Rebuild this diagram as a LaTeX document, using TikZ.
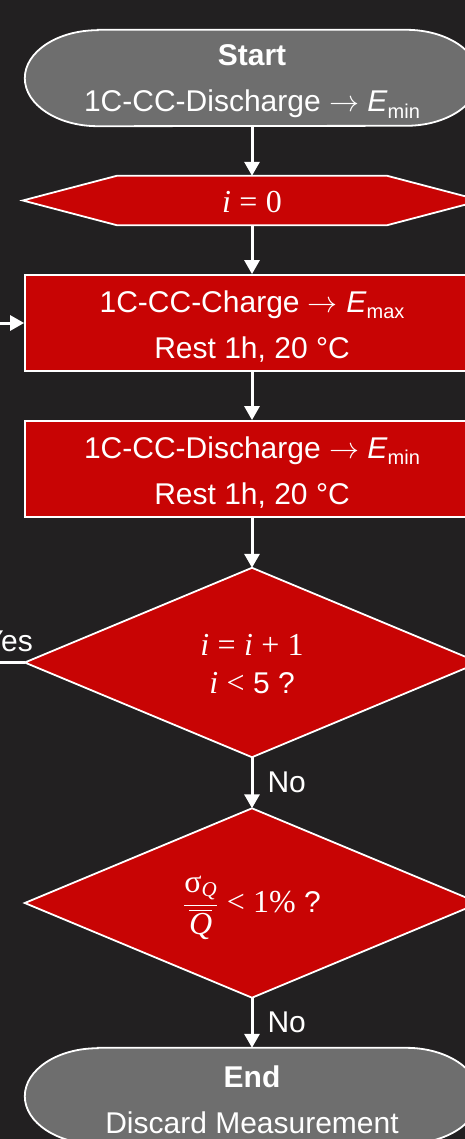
\RequirePackage{fix-cm}
\documentclass[tikz,border=0pt]{standalone}
\usepackage{amsmath}
\usepackage[no-math]{fontspec}
\setmainfont{Liberation Sans}
\newfontfamily\mf{Liberation Serif}
\usetikzlibrary{arrows.meta,calc,backgrounds}
\definecolor{bgc}{RGB}{34,32,33}
\definecolor{redc}{RGB}{200,4,4}
\definecolor{grayc}{RGB}{110,110,110}
\newcommand{\Esub}[1]{\textit{E}\raisebox{-0.22em}{\fontsize{20}{20}\selectfont #1}}
\newcommand{\up}{\rule{0pt}{28.5pt}}
\newcommand{\dn}[2]{\raisebox{-#1}[\height][\depth]{#2}}
\newcommand{\ms}{\fontsize{32}{38}\selectfont\mf}
\newcommand{\mi}[1]{{\ms\itshape #1}}
\newcommand{\op}[1]{\hspace{0.28em}{\ms #1}\hspace{0.28em}}
\tikzset{
  txt/.style={text=white, font=\fontsize{30}{46}\selectfont, align=center, inner sep=0pt},
  box/.style={txt, minimum width=454pt, minimum height=96pt},
  redbox/.style={box, draw=white, fill=redc, line width=1.8pt},
  hexn/.style={txt, minimum width=458pt, minimum height=49pt},
  dia/.style={txt, font=\fontsize{30}{38}\selectfont, minimum width=454pt, minimum height=189pt},
  redshape/.style={draw=white, fill=redc, line width=1.8pt},
  grayshape/.style={draw=white, fill=grayc, line width=1.8pt},
  conn/.style={draw=white, line width=3pt, -{Triangle[width=15pt,length=14pt]}},
  lbl/.style={text=white, font=\fontsize{30}{36}\selectfont, inner sep=0pt}
}
\begin{document}
\begin{tikzpicture}[x=1pt,y=1pt]
\useasboundingbox (0,0) rectangle (465,-1139);
\node[box] (st) at (252,-78) {\up\textbf{Start}\\1C-CC-Discharge $\rightarrow$ \Esub{min}};
\node[hexn] (hx) at (252,-200.5) {\dn{2pt}{\mi{i}\op{=}{\ms 0}}};
\node[redbox] (b1) at (252,-323) {\up 1C-CC-Charge $\rightarrow$ \Esub{max}\\Rest 1h, 20 °C};
\node[redbox] (b2) at (252,-469) {\up 1C-CC-Discharge $\rightarrow$ \Esub{min}\\Rest 1h, 20 °C};
\node[dia] (d1) at (252,-662.5) {\rule{0pt}{24pt}\mi{i}\op{=}\mi{i}\op{+}{\ms 1}\\\mi{i}\op{<}5 ?};
\node[dia] (d2) at (252,-903) {\dn{5pt}{$\dfrac{\text{\ms σ}_{\text{\fontsize{21}{24}\selectfont\mf\itshape Q}}}{\overline{\text{\mi{Q}}}}$\op{<}{\ms 1\%} ?}};
\node[box] (en) at (252,-1096) {\up\textbf{End}\\Discard Measurement};
\begin{pgfonlayer}{background}
\fill[bgc] (-5,5) rectangle (470,-1144);
\draw[grayshape] ($(st.north west)+(73,0)$) -- ($(st.north east)+(-73,0)$)
  arc[start angle=90,end angle=-90,x radius=73,y radius=48]
  -- ($(st.south west)+(73,0)$)
  arc[start angle=270,end angle=90,x radius=73,y radius=48] -- cycle;
\draw[grayshape] ($(en.north west)+(73,0)$) -- ($(en.north east)+(-73,0)$)
  arc[start angle=90,end angle=-90,x radius=73,y radius=48]
  -- ($(en.south west)+(73,0)$)
  arc[start angle=270,end angle=90,x radius=73,y radius=48] -- cycle;
\draw[redshape] (hx.west) -- ($(hx.north west)+(94,0)$) -- ($(hx.north east)+(-94,0)$)
  -- (hx.east) -- ($(hx.south east)+(-94,0)$) -- ($(hx.south west)+(94,0)$) -- cycle;
\draw[redshape] (d1.north) -- (d1.east) -- (d1.south) -- (d1.west) -- cycle;
\draw[redshape] (d2.north) -- (d2.east) -- (d2.south) -- (d2.west) -- cycle;
\end{pgfonlayer}
\draw[conn] (st.south) -- (hx.north);
\draw[conn] (hx.south) -- (b1.north);
\draw[conn] (b1.south) -- (b2.north);
\draw[conn] (b2.south) -- (d1.north);
\draw[conn] (d1.south) -- node[lbl, right=14pt] (no1) {No} (d2.north);
\draw[conn] (d2.south) -- node[lbl, right=14pt] (no2) {No} (en.north);
\draw[conn] (d1.west) -- ++(-40,0) |- (b1.west);
\node[lbl, anchor=east] (yes) at (33,-641) {Yes};
\end{tikzpicture}
\end{document}
